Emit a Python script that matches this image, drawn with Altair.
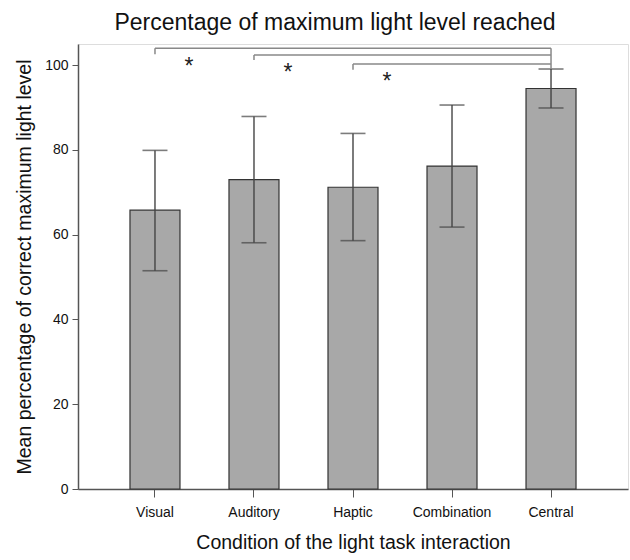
import altair as alt
import pandas as pd

# Mean percentage of correct maximum light level per condition, with error bar limits
conditions = ["Visual", "Auditory", "Haptic", "Combination", "Central"]
means = [65.8, 73.0, 71.2, 76.2, 94.5]
err_low = [51.5, 58.1, 58.6, 61.8, 89.9]
err_high = [79.9, 87.9, 83.9, 90.6, 99.1]

# Significance brackets: each compares a condition against "Central"
bracket_from = ["Visual", "Auditory", "Haptic"]
bracket_to = ["Central", "Central", "Central"]
bracket_level = [104.0, 102.4, 100.3]
bracket_drop = [102.6, 101.2, 98.9]
star_level = [98.0, 96.6, 94.3]

bars_df = pd.DataFrame({"cond": conditions, "mean": means, "lo": err_low, "hi": err_high})
br_df = pd.DataFrame({"a": bracket_from, "b": bracket_to, "lvl": bracket_level,
                      "drop": bracket_drop, "star": star_level})

Y_MAX = 105
ysc = alt.Scale(domain=[0, Y_MAX], nice=False, zero=True)
xsc = alt.Scale(domain=conditions, paddingInner=0.495, paddingOuter=0.525)

x_axis = alt.Axis(labelAngle=0, labelFontSize=14, labelColor="#111", labelPadding=8,
                  tickSize=8, tickColor="#555", domainColor="#555", domainWidth=1.5,
                  title="Condition of the light task interaction", titleFontSize=19.5,
                  titleFontWeight="normal", titleColor="#111", titlePadding=14)
y_axis = alt.Axis(values=[0, 20, 40, 60, 80, 100], labelFontSize=14, labelColor="#111",
                  tickSize=6, tickColor="#555", domainColor="#555", domainWidth=1.5,
                  grid=False, labelPadding=4,
                  title="Mean percentage of correct maximum light level", titleFontSize=19.5,
                  titleFontWeight="normal", titleColor="#111", titlePadding=10)

base = alt.Chart(bars_df)

bars = base.mark_bar(color="#a8a8a8", stroke="#333", strokeWidth=1.2).encode(
    x=alt.X("cond:N", scale=xsc, axis=x_axis, sort=conditions),
    y=alt.Y("mean:Q", scale=ysc, axis=y_axis),
)

err_rule = base.mark_rule(color="#444", strokeWidth=1.4).encode(
    x=alt.X("cond:N", scale=xsc, sort=conditions, bandPosition=0.5),
    y=alt.Y("lo:Q", scale=ysc),
    y2="hi:Q",
)
cap_hi = base.mark_tick(color="#444", thickness=1.6, size=25, orient="horizontal").encode(
    x=alt.X("cond:N", scale=xsc, sort=conditions, bandPosition=0.5),
    y=alt.Y("hi:Q", scale=ysc),
)
cap_lo = base.mark_tick(color="#444", thickness=1.6, size=25, orient="horizontal").encode(
    x=alt.X("cond:N", scale=xsc, sort=conditions, bandPosition=0.5),
    y=alt.Y("lo:Q", scale=ysc),
)

brk = alt.Chart(br_df)
br_h = brk.mark_rule(color="#888", strokeWidth=1.5).encode(
    x=alt.X("a:N", scale=xsc, sort=conditions, bandPosition=0.5),
    x2="b:N",
    y=alt.Y("lvl:Q", scale=ysc),
)
br_left = brk.mark_rule(color="#888", strokeWidth=1.5).encode(
    x=alt.X("a:N", scale=xsc, sort=conditions, bandPosition=0.5),
    y=alt.Y("lvl:Q", scale=ysc),
    y2="drop:Q",
)
# right-hand leg at "Central": from the highest bracket down to its error bar
br_right = alt.Chart(pd.DataFrame({"b": ["Central"], "top": [max(bracket_level)],
                                   "bot": [err_high[-1]]})).mark_rule(
    color="#888", strokeWidth=1.5).encode(
    x=alt.X("b:N", scale=xsc, sort=conditions, bandPosition=0.5),
    y=alt.Y("top:Q", scale=ysc),
    y2="bot:Q",
)
stars = brk.mark_text(text="*", fontSize=23, color="#222", dx=34,
                      baseline="alphabetic", font="Liberation Sans").encode(
    x=alt.X("a:N", scale=xsc, sort=conditions, bandPosition=0.5),
    y=alt.Y("star:Q", scale=ysc),
)

chart = alt.layer(bars, err_rule, cap_hi, cap_lo, br_h, br_left, br_right, stars).properties(
    width=550,
    height=445,
    autosize=alt.AutoSizeParams(type="none"),
    padding={"left": 78, "top": 44, "right": 2, "bottom": 71},
    title=alt.TitleParams("Percentage of maximum light level reached", fontSize=23,
                          fontWeight="normal", color="#111", anchor="middle",
                          offset=9, dx=-18),
).configure_view(
    stroke="#777", strokeWidth=1.5
).configure(
    font="Liberation Sans"
)

chart.save("out.html", embed_options={"renderer": "svg", "actions": False})
